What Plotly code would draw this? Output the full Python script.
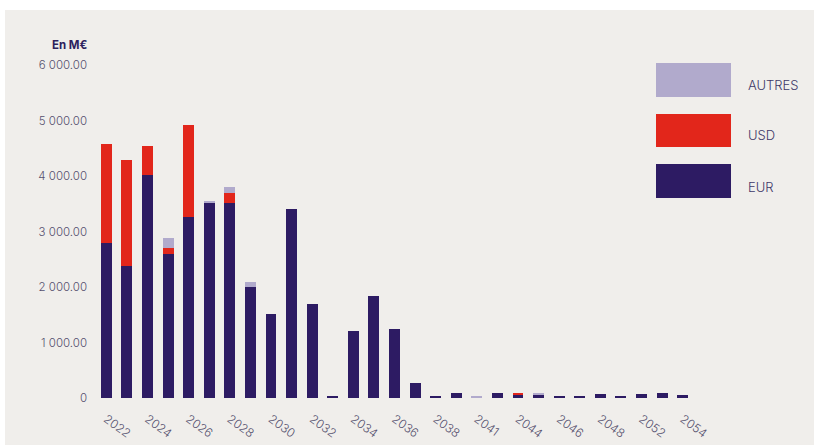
import plotly.graph_objects as go

# Échéancier de la dette par devise (en M€)
years = ["2022", "2023", "2024", "2025", "2026", "2027", "2028", "2029", "2030",
         "2031", "2032", "2033", "2034", "2035", "2036", "2037", "2038", "2039",
         "2041", "2042", "2044", "2045", "2046", "2047", "2048", "2050", "2052",
         "2053", "2054"]

eur = [2796, 2387, 4022, 2598, 3265, 3517, 3517, 2004, 1505,
       3414, 1697, 45, 1204, 1841, 1240, 270, 40, 90,
       0, 85, 65, 55, 35, 35, 80, 30, 80,
       95, 55]
usd = [1772, 1898, 522, 101, 1650, 0, 168, 0, 0,
       0, 0, 0, 0, 0, 0, 0, 0, 0,
       0, 0, 25, 0, 0, 0, 0, 0, 0,
       0, 0]
autres = [0, 0, 0, 175, 0, 29, 113, 90, 0,
          0, 0, 0, 0, 0, 0, 0, 0, 0,
          20, 0, 0, 35, 0, 0, 0, 0, 0,
          0, 0]

y_ticks = [0, 1000, 2000, 3000, 4000, 5000, 6000]
y_tick_labels = ["0", "1 000.00", "2 000.00", "3 000.00", "4 000.00", "5 000.00", "6 000.00"]
x_tick_labels = years[::2]

series = [("EUR", eur, "#2d1b63"), ("USD", usd, "#e2261b"), ("AUTRES", autres, "#b1aacc")]

W, H = 814, 445
L, R, T, B = 96, 121, 65, 47
PW, PH = W - L - R, H - T - B


def px_x(x):
    return (x - L) / PW


def px_y(y):
    return (H - B - y) / PH


BG = "#f0eeeb"
TXT = "#55506e"
DARK = "#2d1f5e"

fig = go.Figure()
for name, vals, col in series:
    fig.add_trace(go.Bar(x=years, y=vals, name=name, marker_color=col,
                         marker_line_width=0, showlegend=False))

shapes = [dict(type="rect", xref="paper", yref="paper", layer="below",
               x0=px_x(5), x1=px_x(W + 5), y0=px_y(H + 5), y1=px_y(10),
               fillcolor=BG, line_width=0)]
annotations = [dict(text="<b>En M€</b>", xref="paper", yref="paper",
                    x=px_x(70), y=px_y(45), xanchor="center", yanchor="middle",
                    showarrow=False,
                    font=dict(family="Inter", size=11.5, color=DARK))]

# Légende : grands pavés de couleur
legend_rows = [("AUTRES", "#b1aacc", 63, 97), ("USD", "#e2261b", 114, 147), ("EUR", "#2d1b63", 164, 198)]
label_y = {"AUTRES": 85, "USD": 135, "EUR": 187}
for label, col, top, bot in legend_rows:
    shapes.append(dict(type="rect", xref="paper", yref="paper",
                       x0=px_x(656), x1=px_x(731), y0=px_y(bot), y1=px_y(top),
                       fillcolor=col, line_width=0))
    annotations.append(dict(text=label, xref="paper", yref="paper",
                            x=px_x(746), y=px_y(label_y[label]),
                            xanchor="left", yanchor="middle",
                            showarrow=False,
                            font=dict(family="Inter", size=13, color="#3e3868", weight=300)))

fig.update_layout(
    width=W, height=H,
    margin=dict(l=L, r=R, t=T, b=B),
    paper_bgcolor="white",
    plot_bgcolor="rgba(0,0,0,0)",
    barmode="stack",
    bargap=0.47,
    shapes=shapes,
    annotations=annotations,
    xaxis=dict(type="category", categoryorder="array", categoryarray=years,
               tickvals=x_tick_labels, ticktext=x_tick_labels, tickangle=36,
               showgrid=False, zeroline=False, showline=False, ticks="",
               ticklabelstandoff=11, automargin=False,
               tickfont=dict(family="Inter", size=12, color=TXT, weight=300)),
    yaxis=dict(range=[0, 6000], tickvals=y_ticks, ticktext=y_tick_labels,
               showgrid=False, zeroline=False, showline=False, ticks="",
               ticklabelstandoff=8, automargin=False,
               tickfont=dict(family="Inter", size=11.5, color=TXT, weight=300)),
)

fig.write_html("out.html")
